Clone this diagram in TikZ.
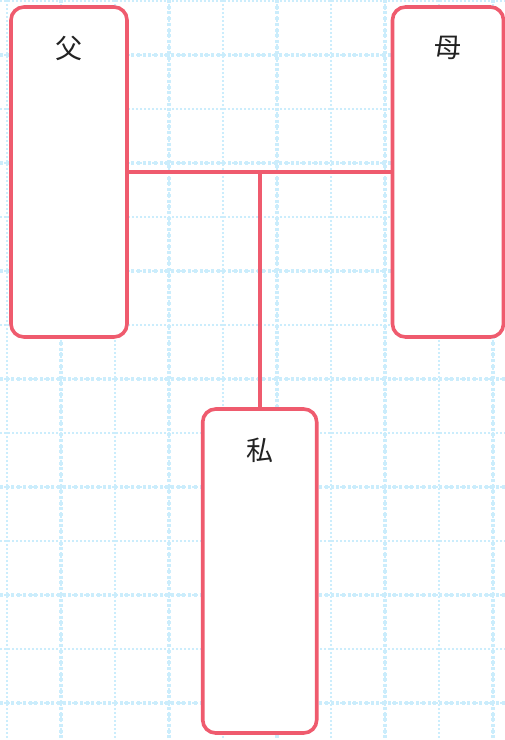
\documentclass[tikz,border=0pt]{standalone}
\usepackage{fontspec}
\newfontfamily\jpfont{Noto Sans CJK JP}
\usetikzlibrary{positioning,calc}
\definecolor{rose}{HTML}{EF5B6E}
\definecolor{gridblue}{HTML}{CBEDFC}
\definecolor{ink}{HTML}{222222}
\tikzset{line width=.8pt,
  every node/.style={font=\jpfont\fontsize{27}{30}\selectfont,text=ink},
  minor/.style={draw=gridblue,line width=2pt,dash pattern=on 2pt off 2pt},
  major/.style={draw=gridblue,line width=3.6pt,dash pattern=on 3pt off 2.7pt},
  person/.style={draw=rose,line width=3.6pt,fill=white,rounded corners=13pt,
    minimum width=#1,inner sep=0pt},
  tie/.style={draw=rose,line width=3.6pt}}

\begin{document}
\begin{tikzpicture}[x=1pt,y=-1pt]
\useasboundingbox (0,0) rectangle (505,740);
% background grid
\foreach \k in {0,...,9} {\draw[minor] (6.7+54*\k,0)--(6.7+54*\k,740);}
\foreach \k in {0,...,13} {\draw[minor] (0,1+54*\k)--(505,1+54*\k);}
\foreach \k in {0,...,4} {\draw[major] (60.7+108*\k,0)--(60.7+108*\k,740);}
\foreach \k in {0,...,6} {\draw[major] (0,55+108*\k)--(505,55+108*\k);}
% family boxes
\node[person=116pt,minimum height=330pt] (father) at (69,172) {};
\node[person=111pt,minimum height=330pt] (mother) at (448,172) {};
\node[person=114pt,minimum height=324pt] (me) at (259.7,571) {};
\node[anchor=north,yshift=-27pt] (fathername) at (father.north) {父};
\node[anchor=north,yshift=-27pt] (mothername) at (mother.north) {母};
\node[anchor=north,yshift=-27pt] (mename) at (me.north) {私};
% lines
\coordinate (junction) at (me.north |- father.east);
\draw[tie] (father.east)--(mother.west);
\draw[tie] (junction)--(me.north);
\end{tikzpicture}
\end{document}
